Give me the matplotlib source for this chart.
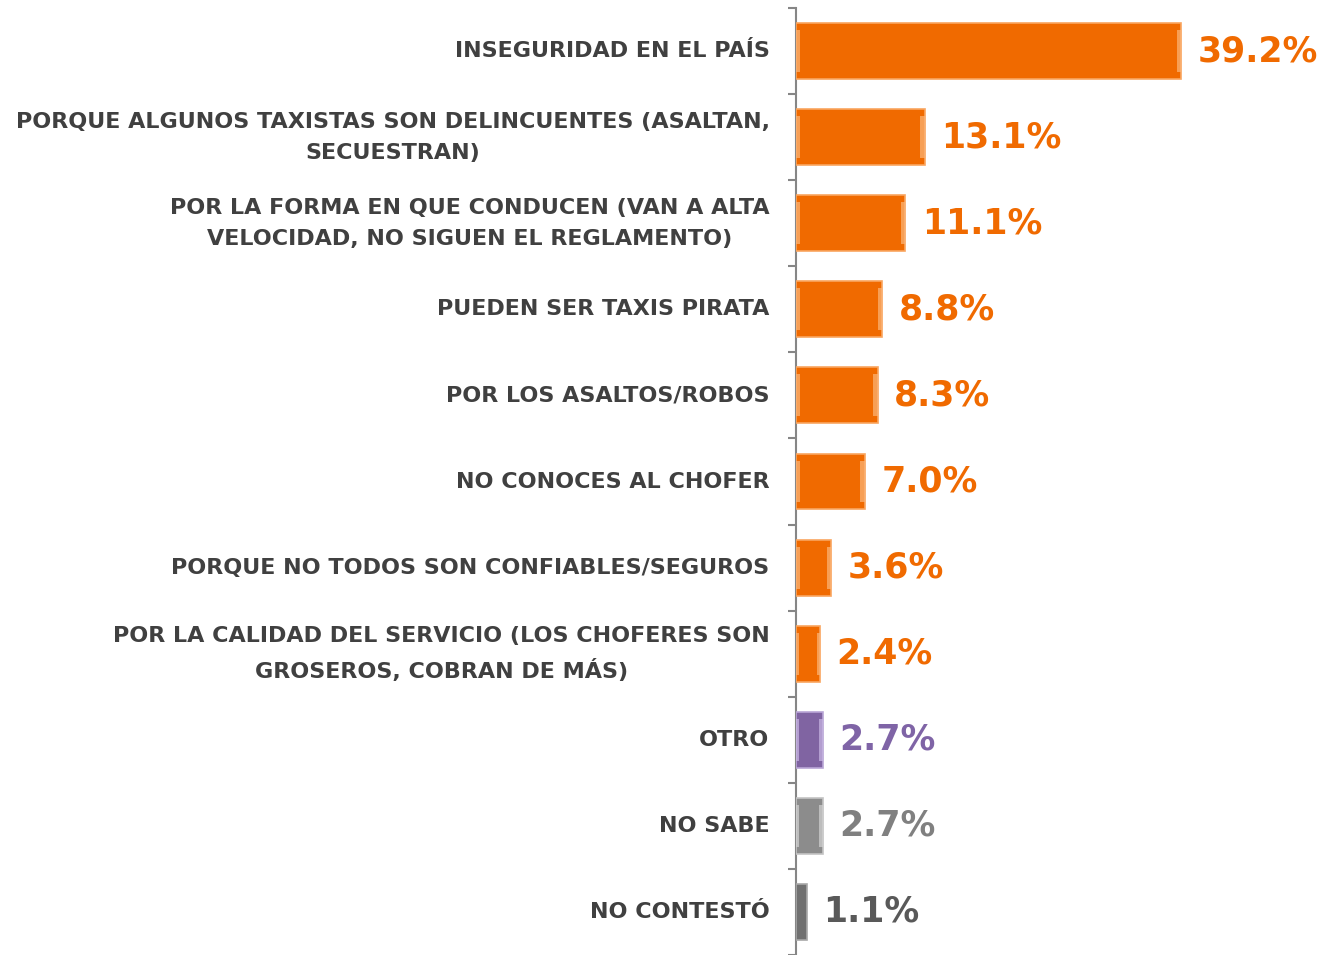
import matplotlib
matplotlib.use("Agg")
import matplotlib.pyplot as plt

categories = [
    "INSEGURIDAD EN EL PAÍS",
    "PORQUE ALGUNOS TAXISTAS SON DELINCUENTES (ASALTAN,\nSECUESTRAN)",
    "POR LA FORMA EN QUE CONDUCEN (VAN A ALTA\nVELOCIDAD, NO SIGUEN EL REGLAMENTO)",
    "PUEDEN SER TAXIS PIRATA",
    "POR LOS ASALTOS/ROBOS",
    "NO CONOCES AL CHOFER",
    "PORQUE NO TODOS SON CONFIABLES/SEGUROS",
    "POR LA CALIDAD DEL SERVICIO (LOS CHOFERES SON\nGROSEROS, COBRAN DE MÁS)",
    "OTRO",
    "NO SABE",
    "NO CONTESTÓ",
]
values = [39.2, 13.1, 11.1, 8.8, 8.3, 7.0, 3.6, 2.4, 2.7, 2.7, 1.1]
value_labels = ["39.2%", "13.1%", "11.1%", "8.8%", "8.3%", "7.0%", "3.6%", "2.4%", "2.7%", "2.7%", "1.1%"]

orange = "#F06A00"
bar_colors = [orange] * 8 + ["#8064A2", "#8C8C8C", "#707070"]
edge_colors = ["#F9A560"] * 8 + ["#B9A6D6", "#C4C4C4", "#A8A8A8"]
cap_colors = ["#FBB67A"] * 8 + ["#C9B8E4", "#D2D2D2", "#A0A0A0"]
text_colors = [orange] * 8 + ["#7F64A6", "#808080", "#595959"]

W, H = 1323, 955
fig = plt.figure(figsize=(W / 100, H / 100), dpi=100)
fig.patch.set_facecolor("white")

left_px = 796
ax = fig.add_axes([left_px / W, 0.0, 1 - left_px / W, 1 - 8 / H])
ax.patch.set_alpha(0)

n = len(categories)
ypos = list(range(n))
bar_h = 0.65

ax.barh(ypos, values, height=bar_h, color=bar_colors, edgecolor=edge_colors,
        linewidth=1.2, zorder=3)
# bevel end caps
caps = [min(0.45, v * 0.12) for v in values]
ax.barh(ypos, caps, height=bar_h * 0.75, color=cap_colors, linewidth=0, zorder=4, alpha=0.7)
ax.barh(ypos, caps, left=[v - c for v, c in zip(values, caps)], height=bar_h * 0.75,
        color=cap_colors, linewidth=0, zorder=4, alpha=0.7)

# limits: 9.82 px per percent, axes spans 527 px
ax.set_xlim(0, (W - left_px) / 9.82)
top_i = (8 - 50) / 86.4
bot_i = (955 - 50) / 86.4
ax.set_ylim(bot_i, top_i)

for s in ["top", "right", "bottom"]:
    ax.spines[s].set_visible(False)
ax.spines["left"].set_color("#868686")
ax.spines["left"].set_linewidth(1.5)
ax.set_xticks([])
ax.set_yticks([i - 0.5 for i in range(n + 1)])
ax.set_yticklabels([])
ax.tick_params(axis="y", direction="out", length=6, width=1.5, color="#868686")

for i, (cat, v, lab, tc) in enumerate(zip(categories, values, value_labels, text_colors)):
    ax.annotate(cat, xy=(0, i), xytext=(-19, 0), textcoords="offset points",
                ha="right", va="center", multialignment="center", fontsize=16,
                fontweight="bold", color="#404040", linespacing=1.7,
                annotation_clip=False)
    ax.annotate(lab, xy=(v, i), xytext=(12, 0), textcoords="offset points",
                ha="left", va="center", fontsize=25, fontweight="bold",
                color=tc, annotation_clip=False, zorder=5)

fig.savefig("out.png", dpi=100, facecolor="white")
